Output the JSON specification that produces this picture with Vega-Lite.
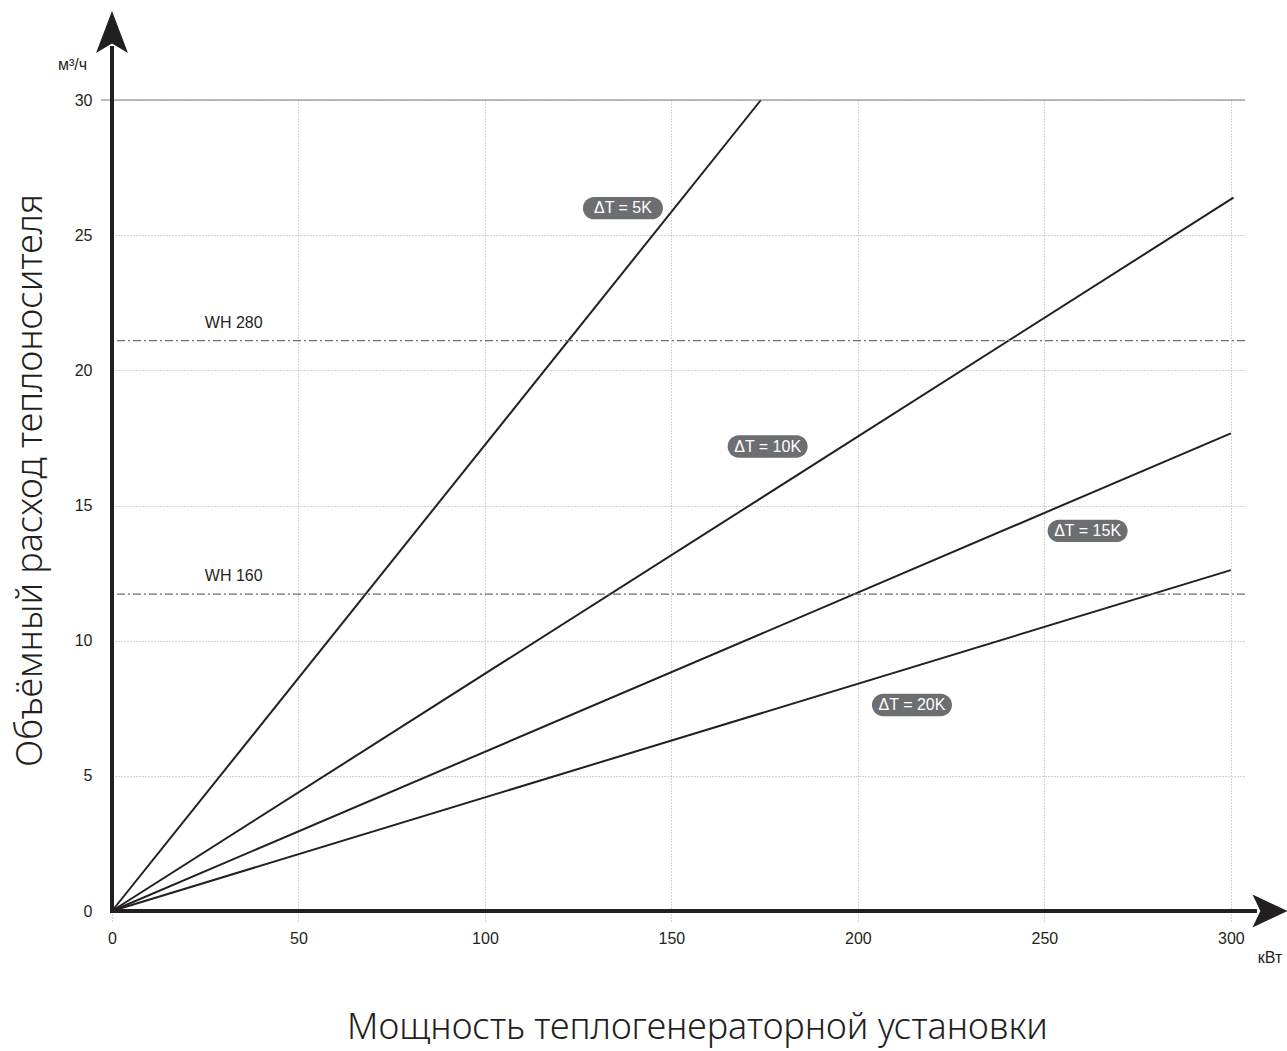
{
  "$schema": "https://vega.github.io/schema/vega-lite/v6.json",
  "autosize": {"type": "none"},
  "padding": {"left": 112, "top": 100, "right": 42, "bottom": 140},
  "width": 1133,
  "height": 811,
  "background": "white",
  "config": {"view": {"stroke": null}},
  "datasets": {
    "flow": [
      {"dt": "5K", "p": 0, "q": 0}, {"dt": "5K", "p": 174.0, "q": 30},
      {"dt": "10K", "p": 0, "q": 0}, {"dt": "10K", "p": 300.7, "q": 26.39},
      {"dt": "15K", "p": 0, "q": 0}, {"dt": "15K", "p": 300, "q": 17.67},
      {"dt": "20K", "p": 0, "q": 0}, {"dt": "20K", "p": 300, "q": 12.61}
    ],
    "badges": [
      {"label": "ΔT = 5K", "p": 137.0, "q": 26.0},
      {"label": "ΔT = 10K", "p": 175.8, "q": 17.18},
      {"label": "ΔT = 15K", "p": 261.6, "q": 14.06},
      {"label": "ΔT = 20K", "p": 214.5, "q": 7.62}
    ],
    "wh": [
      {"name": "WH 280", "q": 21.1, "lp": 24.9},
      {"name": "WH 160", "q": 11.72, "lp": 24.9}
    ],
    "one": [{}]
  },
  "layer": [
    {
      "data": {"name": "flow"},
      "mark": {"type": "line", "color": "#231f20", "strokeWidth": 2},
      "encoding": {
        "x": {"field": "p", "type": "quantitative",
          "scale": {"domain": [0, 303.8], "nice": false, "zero": false},
          "axis": {
            "values": [0, 50, 100, 150, 200, 250, 300],
            "domain": false, "labelFlush": false,
            "grid": true, "gridColor": "#a7a9ac", "gridDash": [1, 2], "gridWidth": 1,
            "ticks": true, "tickSize": 11, "tickColor": "#a7a9ac", "tickDash": [1, 2], "tickWidth": 1,
            "labelPadding": 8, "labelFont": "Liberation Sans", "labelFontSize": 16, "labelColor": "#231f20",
            "title": "Мощность теплогенераторной установки",
            "titleFont": "Noto Sans", "titleFontWeight": 300, "titleFontSize": 36, "titleColor": "#231f20",
            "titleX": 585, "titleY": 116, "titleBaseline": "middle", "titleAlign": "center"
          }
        },
        "y": {"field": "q", "type": "quantitative",
          "scale": {"domain": [0, 30], "nice": false, "zero": false},
          "axis": {
            "values": [0, 5, 10, 15, 20, 25, 30],
            "domain": false, "labelFlush": false,
            "grid": true, "gridColor": "#a7a9ac", "gridDash": [1, 2], "gridWidth": 1,
            "ticks": false,
            "labelPadding": 20, "labelFont": "Liberation Sans", "labelFontSize": 16, "labelColor": "#231f20",
            "title": "Объёмный расход теплоносителя",
            "titleFont": "Noto Sans", "titleFontWeight": 300, "titleFontSize": 36, "titleColor": "#231f20",
            "titleX": -82, "titleY": 380, "titleBaseline": "middle", "titleAlign": "center", "titleAngle": -90
          }
        },
        "detail": {"field": "dt"}
      }
    },
    {
      "data": {"name": "one"},
      "mark": {"type": "rule", "color": "#808285", "strokeWidth": 1.2},
      "encoding": {"y": {"datum": 30}, "x": {"datum": -2.95}, "x2": {"datum": 303.8}}
    },
    {
      "data": {"name": "wh"},
      "mark": {"type": "rule", "color": "#6d6e71", "strokeWidth": 1.3, "strokeDash": [8, 3, 2, 3]},
      "encoding": {"y": {"field": "q", "type": "quantitative"}}
    },
    {
      "data": {"name": "wh"},
      "mark": {"type": "text", "align": "left", "baseline": "middle", "dy": -18, "font": "Liberation Sans", "fontSize": 16, "color": "#231f20"},
      "encoding": {
        "x": {"field": "lp", "type": "quantitative"},
        "y": {"field": "q", "type": "quantitative"},
        "text": {"field": "name"}
      }
    },
    {
      "data": {"name": "one"},
      "mark": {"type": "rule", "color": "#231f20", "strokeWidth": 4},
      "encoding": {"x": {"datum": 0}, "y": {"datum": -0.07}, "y2": {"datum": 32.0}}
    },
    {
      "data": {"name": "one"},
      "mark": {"type": "rule", "color": "#231f20", "strokeWidth": 4},
      "encoding": {"y": {"datum": 0}, "x": {"datum": -0.5}, "x2": {"datum": 307}}
    },
    {
      "data": {"name": "one"},
      "mark": {"type": "point", "filled": true, "opacity": 1, "color": "#231f20",
        "shape": "M0,-1L0.76,1L0,0.55L-0.76,1Z", "size": 1764},
      "encoding": {"x": {"datum": 0}, "y": {"datum": 32.52}}
    },
    {
      "data": {"name": "one"},
      "mark": {"type": "point", "filled": true, "opacity": 1, "color": "#231f20",
        "shape": "M1,0L-1,-0.94L-0.55,0L-1,0.94Z", "size": 1225},
      "encoding": {"x": {"datum": 310.5}, "y": {"datum": 0}}
    },
    {
      "data": {"name": "one"},
      "mark": {"type": "text", "align": "right", "baseline": "middle", "dx": -25, "font": "Liberation Sans", "fontSize": 16, "color": "#231f20"},
      "encoding": {"x": {"datum": 0}, "y": {"datum": 31.3}, "text": {"value": "м³/ч"}}
    },
    {
      "data": {"name": "one"},
      "mark": {"type": "text", "align": "center", "baseline": "middle", "dy": 47, "font": "Liberation Sans", "fontSize": 16, "color": "#231f20"},
      "encoding": {"x": {"datum": 310.5}, "y": {"datum": 0}, "text": {"value": "кВт"}}
    },
    {
      "data": {"name": "badges"},
      "mark": {"type": "point", "filled": true, "opacity": 1, "color": "#6d6e71",
        "shape": "M-0.72,-0.28L0.72,-0.28A0.28,0.28 0 0 1 0.72,0.28L-0.72,0.28A0.28,0.28 0 0 1 -0.72,-0.28Z", "size": 6400},
      "encoding": {
        "x": {"field": "p", "type": "quantitative"},
        "y": {"field": "q", "type": "quantitative"}
      }
    },
    {
      "data": {"name": "badges"},
      "mark": {"type": "text", "align": "center", "baseline": "middle", "font": "Liberation Sans", "fontSize": 16, "color": "white"},
      "encoding": {
        "x": {"field": "p", "type": "quantitative"},
        "y": {"field": "q", "type": "quantitative"},
        "text": {"field": "label"}
      }
    }
  ]
}
